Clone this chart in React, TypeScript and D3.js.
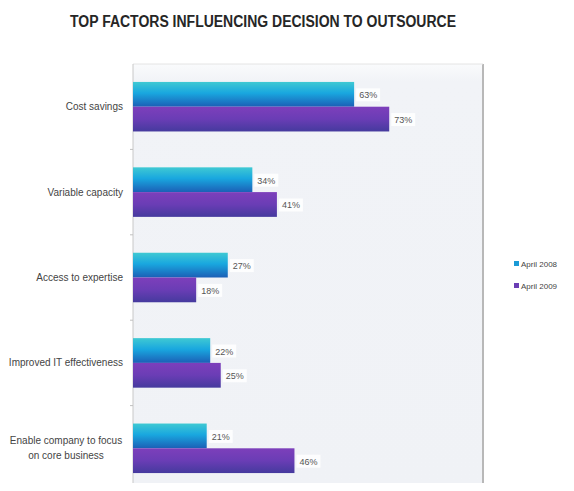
import * as d3 from "d3";

const categories = [
  "Cost savings",
  "Variable capacity",
  "Access to expertise",
  "Improved IT effectiveness",
  "Enable company to focus|on core business",
];
const series2008 = [63, 34, 27, 22, 21];
const series2009 = [73, 41, 18, 25, 46];
const seriesNames = ["April 2008", "April 2009"];

const W = 574;
const H = 491;
const plot = { left: 133, top: 64, right: 483, bottom: 478 };

export default function App() {
  const y = d3
    .scaleBand<string>()
    .domain(categories)
    .range([plot.top, 491])
    .paddingInner(0.42)
    .paddingOuter(0.21);
  const inner = d3
    .scaleBand<number>()
    .domain([0, 1])
    .range([0, y.bandwidth()]);
  const x = d3.scaleLinear().domain([0, 100]).range([plot.left, plot.left + 351]);

  const series = [series2008, series2009];
  const grads = ["g2008", "g2009"];
  const font = "'Liberation Sans', Arial, sans-serif";

  // tick marks between groups
  const ticks = categories.slice(1).map((c) => (y(c) || 0) - (y.step() - y.bandwidth()) / 2);

  return (
    <svg width={W} height={H} style={{ display: "block", margin: "-8px" }}>
      <defs>
        <linearGradient id="g2008" x1="0" y1="0" x2="0" y2="1">
          <stop offset="0%" stopColor="#3fc9d3" />
          <stop offset="45%" stopColor="#19a7df" />
          <stop offset="100%" stopColor="#1c5fb6" />
        </linearGradient>
        <linearGradient id="g2009" x1="0" y1="0" x2="0" y2="1">
          <stop offset="0%" stopColor="#7d3fbb" />
          <stop offset="50%" stopColor="#6a3db5" />
          <stop offset="100%" stopColor="#453a9e" />
        </linearGradient>
        <linearGradient id="bg" x1="0" y1="0" x2="0" y2="1">
          <stop offset="0%" stopColor="#fafbfc" />
          <stop offset="4%" stopColor="#f1f3f7" />
          <stop offset="100%" stopColor="#f0f2f6" />
        </linearGradient>
      </defs>
      <rect width={W} height={H} fill="#ffffff" />
      <text
        x={263}
        y={27}
        textAnchor="middle"
        fontFamily="'Liberation Sans Narrow', 'Liberation Sans', Arial, sans-serif"
        fontWeight="bold"
        fontSize={16}
        fill="#262626"
        textLength={386}
        lengthAdjust="spacingAndGlyphs"
      >
        TOP FACTORS INFLUENCING DECISION TO OUTSOURCE
      </text>

      <rect
        x={plot.left}
        y={plot.top}
        width={plot.right - plot.left}
        height={H - plot.top}
        fill="url(#bg)"
      />
      <line x1={plot.right} x2={plot.right} y1={plot.top} y2={H} stroke="#b8b8b8" strokeWidth={2} />
      <line x1={plot.left} x2={plot.right} y1={plot.top} y2={plot.top} stroke="#e4e4e4" />
      <line x1={plot.left} x2={plot.left} y1={plot.top} y2={H} stroke="#c8c8c8" />
      {ticks.map((t, i) => (
        <line key={i} x1={plot.left - 3} x2={plot.left} y1={t} y2={t} stroke="#c0c0c0" />
      ))}

      {categories.map((c) => {
        const y0 = y(c) || 0;
        const cy = y0 + y.bandwidth() / 2;
        const lines = c.split("|");
        return (
          <g key={c}>
            {lines.length === 1 ? (
              <text
                x={123}
                y={cy + 3.5}
                textAnchor="end"
                fontFamily={font}
                fontSize={10}
                fill="#444"
              >
                {c}
              </text>
            ) : (
              lines.map((l, k) => (
                <text
                  key={k}
                  x={66}
                  y={cy - 4 + k * 15}
                  textAnchor="middle"
                  fontFamily={font}
                  fontSize={10}
                  fill="#444"
                >
                  {l}
                </text>
              ))
            )}
            {series.map((s, si) => {
              const v = s[categories.indexOf(c)];
              const by = y0 + (inner(si) || 0);
              const bh = inner.bandwidth();
              const xe = x(v);
              return (
                <g key={si}>
                  <rect
                    x={plot.left}
                    y={by}
                    width={xe - plot.left}
                    height={bh}
                    fill={`url(#${grads[si]})`}
                  />
                  <rect x={xe + 2} y={by + bh / 2 - 6} width={24} height={13} fill="#ffffff" opacity={0.85} />
                  <text
                    x={xe + 5}
                    y={by + bh / 2 + 4}
                    fontFamily={font}
                    fontSize={9}
                    fill="#555"
                  >
                    {v}%
                  </text>
                </g>
              );
            })}
          </g>
        );
      })}

      {seriesNames.map((n, i) => (
        <g key={n} transform={`translate(514, ${265 + i * 22})`}>
          <rect x={0} y={-4} width={5} height={5} fill={i === 0 ? "#1a9ad6" : "#6a3db5"} />
          <text x={7} y={1.5} fontFamily={font} fontSize={8} fill="#444">
            {n}
          </text>
        </g>
      ))}
    </svg>
  );
}
